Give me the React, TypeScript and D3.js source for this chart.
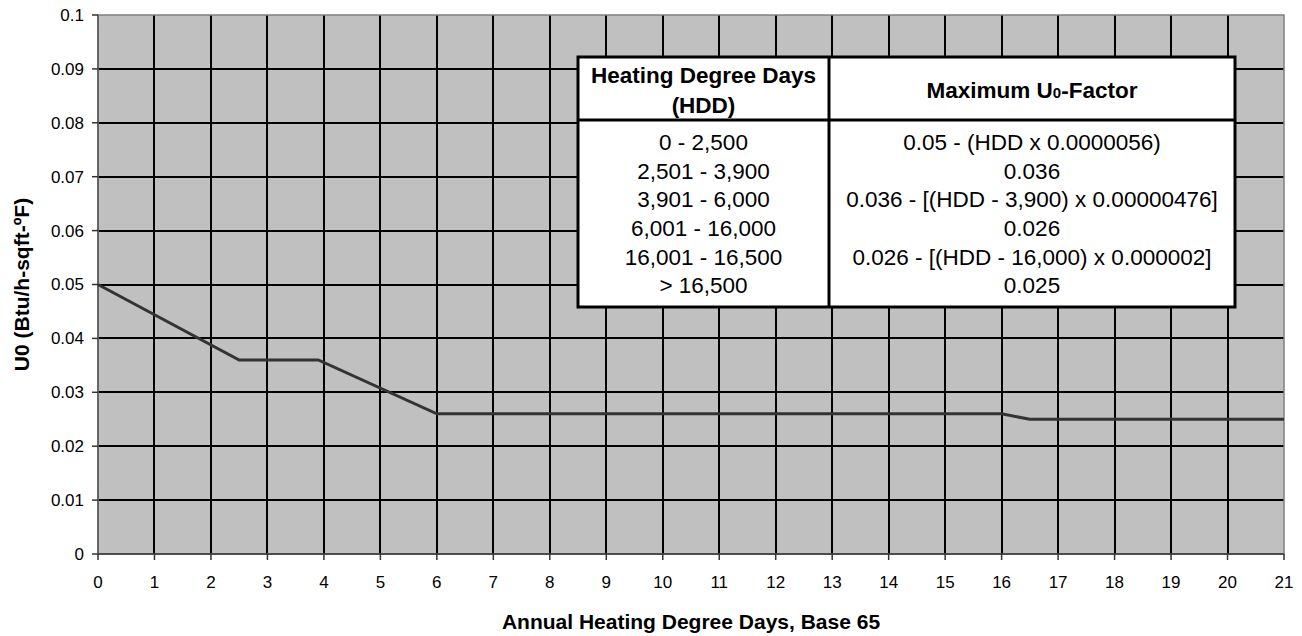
import React from "react";
import * as d3 from "d3";

const hddThousands = [0, 2.5, 3.9, 6, 16, 16.5, 21];
const uFactor = [0.05, 0.036, 0.036, 0.026, 0.026, 0.025, 0.025];
const xTicks = d3.range(0, 22, 1);
const yTicks = [0, 0.01, 0.02, 0.03, 0.04, 0.05, 0.06, 0.07, 0.08, 0.09, 0.1];
const yTickLabels = ["0", "0.01", "0.02", "0.03", "0.04", "0.05", "0.06", "0.07", "0.08", "0.09", "0.1"];
const hddRanges = ["0 - 2,500", "2,501 - 3,900", "3,901 - 6,000", "6,001 - 16,000", "16,001 - 16,500", "> 16,500"];
const maxU0 = [
  "0.05 - (HDD x 0.0000056)",
  "0.036",
  "0.036 - [(HDD - 3,900) x 0.00000476]",
  "0.026",
  "0.026 - [(HDD - 16,000) x 0.000002]",
  "0.025",
];

const W = 1302;
const H = 636;
const left = 98;
const right = 1284;
const top = 15;
const bottom = 554;
const FONT = "Arial, 'Liberation Sans', sans-serif";

export default function App() {
  const x = d3.scaleLinear().domain([0, 21]).range([left, right]);
  const y = d3.scaleLinear().domain([0, 0.1]).range([bottom, top]);
  const pts = hddThousands.map((h, i) => [h, uFactor[i]] as [number, number]);
  const line = d3
    .line<[number, number]>()
    .x((d) => x(d[0]))
    .y((d) => y(d[1]));

  // table layout
  const tL = 578, tR = 1235, tT = 57, tB = 307, tMid = 829, tHead = 120;
  const rowY0 = 142, rowStep = 28.7;
  const c1 = (tL + tMid) / 2;
  const c2 = (tMid + tR) / 2;

  return (
    <svg
      width={W}
      height={H}
      style={{ position: "absolute", left: 0, top: 0, background: "#fff" }}
      fontFamily={FONT}
    >
      <rect x={left} y={top} width={right - left} height={bottom - top} fill="#C0C0C0" />
      {/* grid */}
      {xTicks.slice(1, -1).map((t) => (
        <line key={"gx" + t} x1={Math.round(x(t))} x2={Math.round(x(t))} y1={top} y2={bottom} stroke="#000" strokeWidth={2} />
      ))}
      {yTicks.slice(1, -1).map((t) => (
        <line key={"gy" + t} x1={left} x2={right} y1={Math.round(y(t))} y2={Math.round(y(t))} stroke="#000" strokeWidth={2} />
      ))}
      {/* border */}
      <rect x={left} y={top} width={right - left} height={bottom - top} fill="none" stroke="#808080" strokeWidth={1.5} />
      {/* axes */}
      <line x1={left} x2={right} y1={bottom} y2={bottom} stroke="#333" strokeWidth={1.5} />
      <line x1={left} x2={left} y1={top} y2={bottom} stroke="#555" strokeWidth={1.5} />
      {xTicks.map((t) => (
        <g key={"xt" + t}>
          <line x1={x(t)} x2={x(t)} y1={bottom} y2={bottom + 6} stroke="#333" strokeWidth={1.5} />
          <text x={x(t)} y={588} textAnchor="middle" fontSize={17} fill="#000">
            {t}
          </text>
        </g>
      ))}
      {yTicks.map((t, i) => (
        <g key={"yt" + t}>
          <line x1={left - 6} x2={left} y1={y(t)} y2={y(t)} stroke="#333" strokeWidth={1.5} />
          <text x={84} y={y(t)} dy="0.35em" textAnchor="end" fontSize={17} fill="#000">
            {yTickLabels[i]}
          </text>
        </g>
      ))}
      {/* data line */}
      <path d={line(pts) || ""} fill="none" stroke="#333333" strokeWidth={3} />
      {/* table */}
      <rect x={tL} y={tT} width={tR - tL} height={tB - tT} fill="#fff" stroke="#000" strokeWidth={3} />
      <line x1={tMid} x2={tMid} y1={tT} y2={tB} stroke="#000" strokeWidth={3} />
      <line x1={tL} x2={tR} y1={tHead} y2={tHead} stroke="#000" strokeWidth={3} />
      <text x={c1} y={75} dy="0.35em" textAnchor="middle" fontSize={22.5} fontWeight="bold">
        Heating Degree Days
      </text>
      <text x={c1} y={105} dy="0.35em" textAnchor="middle" fontSize={22.5} fontWeight="bold">
        (HDD)
      </text>
      <text x={c2} y={90} dy="0.35em" textAnchor="middle" fontSize={22.5} fontWeight="bold">
        Maximum U<tspan fontSize={15}>0</tspan>-Factor
      </text>
      {hddRanges.map((r, i) => (
        <text key={"r" + i} x={c1} y={rowY0 + i * rowStep} dy="0.35em" textAnchor="middle" fontSize={22.5}>
          {r}
        </text>
      ))}
      {maxU0.map((r, i) => (
        <text key={"u" + i} x={c2} y={rowY0 + i * rowStep} dy="0.35em" textAnchor="middle" fontSize={22.5}>
          {r}
        </text>
      ))}
      {/* axis titles */}
      <text x={(left + right) / 2} y={629} textAnchor="middle" fontSize={21} fontWeight="bold">
        Annual Heating Degree Days, Base 65
      </text>
      <text
        transform={`translate(22, ${(top + bottom) / 2}) rotate(-90)`}
        dy="0.35em"
        textAnchor="middle"
        fontSize={21}
        fontWeight="bold"
      >
        U0 (Btu/h-sqft-ºF)
      </text>
    </svg>
  );
}
